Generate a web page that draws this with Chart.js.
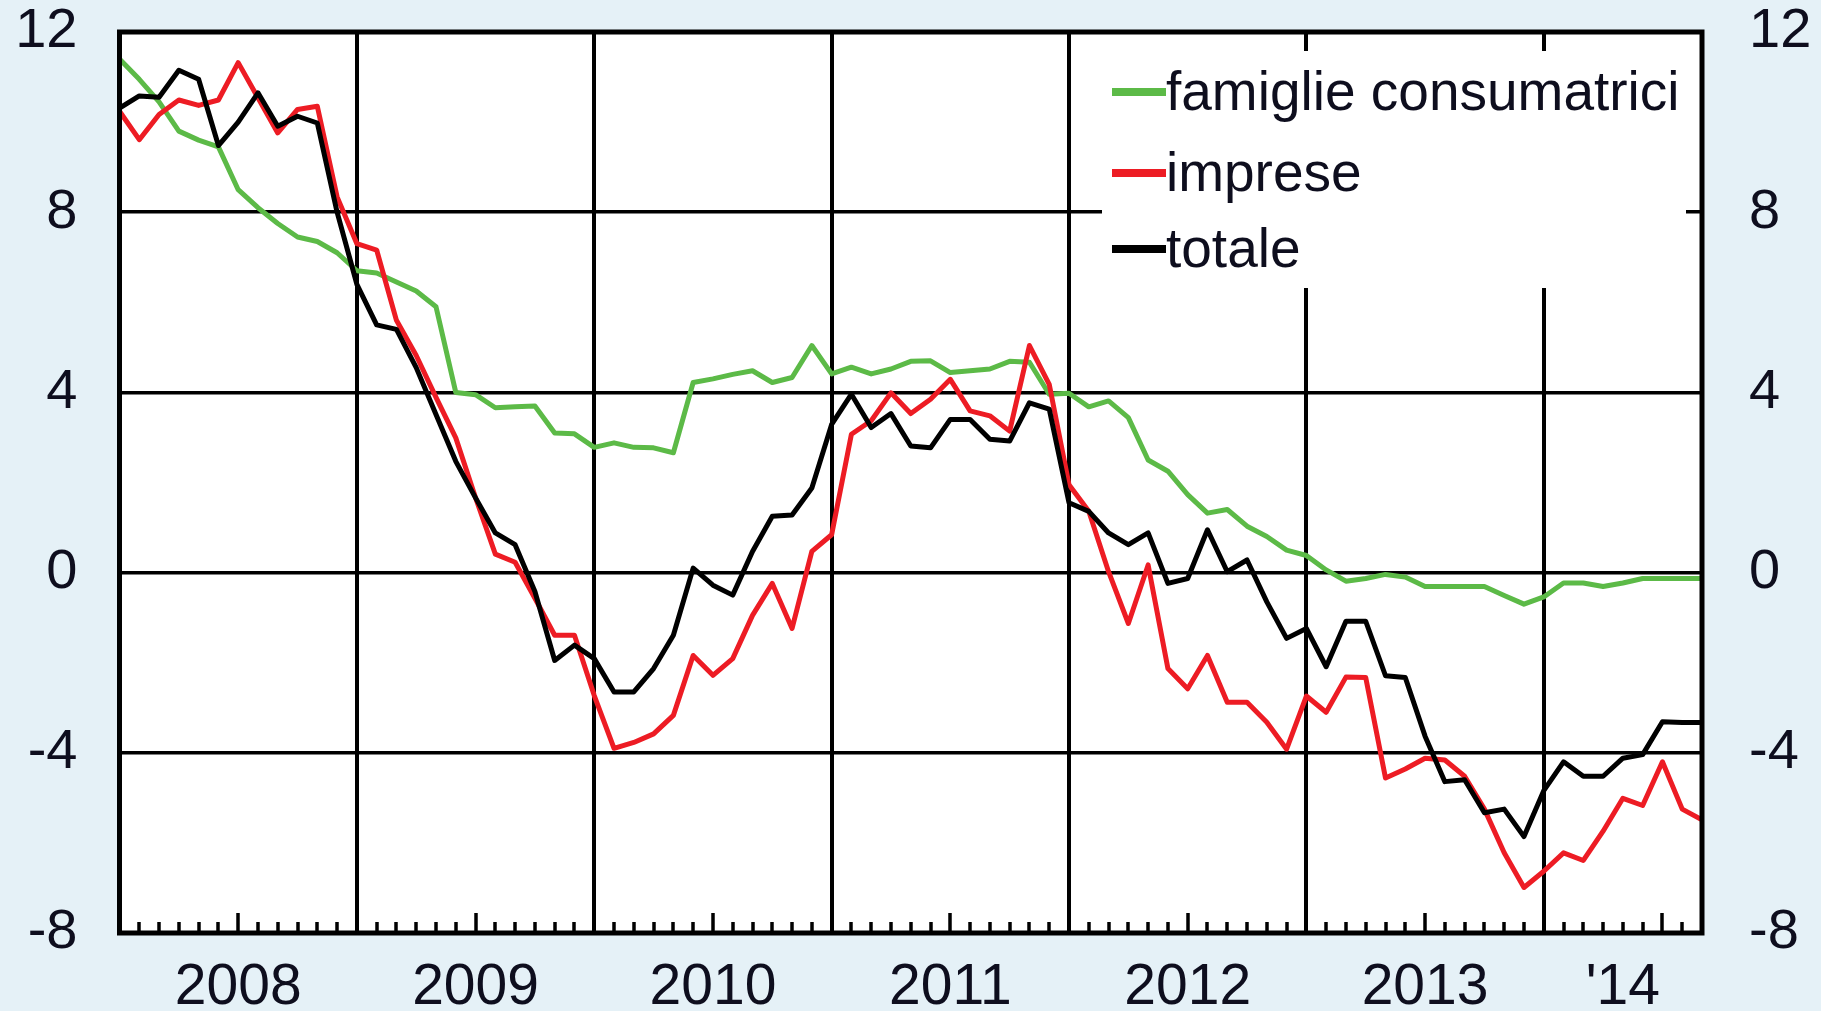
<!DOCTYPE html>
<html>
<head>
<meta charset="utf-8">
<script src="https://cdn.jsdelivr.net/npm/chart.js@4.4.1/dist/chart.umd.min.js"></script>
<style>
  html, body { margin: 0; padding: 0; background: #e5f1f7; }
  canvas { display: block; }
</style>
</head>
<body>
<canvas id="chart" width="1821" height="1011"></canvas>
<script>
// monthly values, Jan 2008 -> Sep 2014 (index 0..80)
const famiglie = [
  11.4, 10.95, 10.45, 9.8, 9.6, 9.45, 8.5, 8.1, 7.75, 7.45, 7.35, 7.1,
  6.7, 6.65, 6.45, 6.25, 5.9, 4.0, 3.95, 3.66, 3.68, 3.7, 3.1, 3.08,
  2.78, 2.88, 2.78, 2.77, 2.66, 4.22, 4.3, 4.4, 4.48, 4.22, 4.33, 5.04,
  4.41, 4.56, 4.41, 4.52, 4.69, 4.7, 4.44, 4.48, 4.52, 4.69, 4.67, 3.96,
  3.98, 3.68, 3.81, 3.44, 2.5, 2.25, 1.73, 1.32, 1.4, 1.03, 0.8, 0.5,
  0.38, 0.06, -0.19, -0.13, -0.04, -0.1, -0.31, -0.31, -0.31, -0.31, -0.51, -0.7,
  -0.54, -0.23, -0.23, -0.31, -0.23, -0.13, -0.13, -0.13, -0.13
];
const imprese = [
  10.24, 9.61, 10.17, 10.49, 10.37, 10.49, 11.32, 10.54, 9.76, 10.28, 10.35, 8.34,
  7.3, 7.16, 5.6, 4.82, 3.89, 2.99, 1.66, 0.41, 0.23, -0.57, -1.39, -1.39,
  -2.73, -3.9, -3.77, -3.58, -3.17, -1.84, -2.28, -1.91, -0.95, -0.24, -1.24, 0.47,
  0.84, 3.07, 3.37, 3.99, 3.53, 3.85, 4.29, 3.59, 3.48, 3.14, 5.04, 4.18,
  1.95, 1.36, 0.02, -1.13, 0.17, -2.13, -2.58, -1.84, -2.88, -2.88, -3.32, -3.92,
  -2.74, -3.1, -2.32, -2.33, -4.56, -4.36, -4.12, -4.16, -4.52, -5.25, -6.22, -6.99,
  -6.63, -6.22, -6.39, -5.74, -5.01, -5.17, -4.2, -5.25, -5.49
];
const totale = [
  10.31, 10.58, 10.55, 11.15, 10.95, 9.48, 10.0, 10.65, 9.91, 10.13, 9.98, 8.0,
  6.4, 5.5, 5.4, 4.55, 3.51, 2.47, 1.66, 0.88, 0.62, -0.42, -1.95, -1.61,
  -1.91, -2.65, -2.65, -2.13, -1.39, 0.1, -0.28, -0.5, 0.47, 1.25, 1.28, 1.88,
  3.29, 3.96, 3.22, 3.53, 2.81, 2.77, 3.4, 3.4, 2.96, 2.92, 3.77, 3.63,
  1.55, 1.36, 0.88, 0.62, 0.88, -0.24, -0.13, 0.95, 0.02, 0.28, -0.65, -1.46,
  -1.24, -2.09, -1.08, -1.08, -2.29, -2.33, -3.63, -4.64, -4.6, -5.33, -5.25, -5.86,
  -4.84, -4.2, -4.52, -4.52, -4.12, -4.04, -3.31, -3.33, -3.33
];

const yearTicks = [6, 18, 30, 42, 54, 66, 76];
const yearLabels = ['2008', '2009', '2010', '2011', '2012', '2013', "'14"];
const yValues = [-8, -4, 0, 4, 8, 12];

const FONT = '"Liberation Sans", Arial, sans-serif';
const TEXT = '#0e0e1e';

function toPoints(arr) {
  return arr.map((v, i) => ({ x: i, y: v }));
}

function noPad(scale) {
  scale.paddingTop = 0;
  scale.paddingBottom = 0;
  scale.paddingLeft = 0;
  scale.paddingRight = 0;
}

// white plot area + page background
const backgroundPlugin = {
  id: 'background',
  beforeDraw(chart) {
    const { ctx, chartArea: a } = chart;
    ctx.save();
    ctx.fillStyle = '#e5f1f7';
    ctx.fillRect(0, 0, chart.width, chart.height);
    ctx.fillStyle = '#ffffff';
    ctx.fillRect(a.left, a.top, a.right - a.left, a.bottom - a.top);
    ctx.restore();
  }
};

// month ticks on the bottom edge, frame round the plot, legend box
const framePlugin = {
  id: 'frame',
  afterDatasetsDraw(chart) {
    const { ctx, chartArea: a, scales } = chart;
    ctx.save();
    ctx.strokeStyle = '#000';
    ctx.lineWidth = 3.5;
    for (let m = 1; m < 80; m++) {
      if (m % 12 === 0) continue;
      const x = Math.round(scales.x.getPixelForValue(m));
      const len = m % 12 === 6 ? 20 : 11;
      ctx.beginPath();
      ctx.moveTo(x, a.bottom);
      ctx.lineTo(x, a.bottom - len);
      ctx.stroke();
    }
    ctx.lineWidth = 5;
    ctx.strokeRect(a.left, a.top, a.right - a.left, a.bottom - a.top);

    ctx.fillStyle = '#ffffff';
    ctx.fillRect(1102, 51, 584, 237);
    const rows = [92, 173, 249];
    ctx.font = '55px ' + FONT;
    ctx.textBaseline = 'alphabetic';
    ctx.textAlign = 'left';
    chart.data.datasets.forEach((ds, i) => {
      ctx.strokeStyle = ds.borderColor;
      ctx.lineWidth = 8;
      ctx.beginPath();
      ctx.moveTo(1112, rows[i]);
      ctx.lineTo(1166, rows[i]);
      ctx.stroke();
      ctx.fillStyle = TEXT;
      ctx.fillText(ds.label, 1166, rows[i] + 18);
    });
    ctx.restore();
  }
};

const ctx = document.getElementById('chart').getContext('2d');
new Chart(ctx, {
  type: 'line',
  data: {
    datasets: [
      { label: 'famiglie consumatrici', data: toPoints(famiglie), borderColor: '#5cba47', order: 3 },
      { label: 'imprese', data: toPoints(imprese), borderColor: '#ed1c24', order: 2 },
      { label: 'totale', data: toPoints(totale), borderColor: '#000000', order: 1 }
    ]
  },
  options: {
    responsive: false,
    devicePixelRatio: 1,
    animation: false,
    layout: { padding: { top: 32, left: 0, right: 0, bottom: 0 } },
    elements: {
      line: { borderWidth: 5, tension: 0, borderJoinStyle: 'round' },
      point: { radius: 0 }
    },
    plugins: { legend: { display: false }, tooltip: { enabled: false } },
    scales: {
      x: {
        type: 'linear',
        min: 0,
        max: 80,
        afterBuildTicks: (scale) => {
          scale.ticks = famiglie.map((v, i) => ({ value: i }));
        },
        afterFit: (scale) => { scale.height = 78; noPad(scale); },
        ticks: {
          autoSkip: false,
          maxRotation: 0,
          padding: 21,
          color: TEXT,
          font: { family: FONT, size: 57 },
          callback: (value) => {
            const k = yearTicks.indexOf(value);
            return k >= 0 ? yearLabels[k] : '';
          }
        },
        grid: {
          drawTicks: false,
          lineWidth: 4,
          color: (c) => (c.tick && c.tick.value % 12 === 0 && c.tick.value > 0 && c.tick.value < 80) ? '#000' : 'rgba(0,0,0,0)'
        },
        border: { display: false }
      },
      y: {
        position: 'left',
        min: -8,
        max: 12,
        afterBuildTicks: (scale) => { scale.ticks = yValues.map(v => ({ value: v })); },
        afterFit: (scale) => { scale.width = 119.5; noPad(scale); },
        ticks: { padding: 42, color: TEXT, font: { family: FONT, size: 56 } },
        grid: {
          drawTicks: false,
          lineWidth: 3.5,
          color: (c) => (c.tick && c.tick.value > -8 && c.tick.value < 12) ? '#000' : 'rgba(0,0,0,0)'
        },
        border: { display: false }
      },
      y2: {
        position: 'right',
        min: -8,
        max: 12,
        afterBuildTicks: (scale) => { scale.ticks = yValues.map(v => ({ value: v })); },
        afterFit: (scale) => { scale.width = 119; noPad(scale); },
        ticks: { padding: 47, color: TEXT, font: { family: FONT, size: 56 } },
        grid: { display: false, drawTicks: false },
        border: { display: false }
      }
    }
  },
  plugins: [backgroundPlugin, framePlugin]
});
</script>
</body>
</html>
